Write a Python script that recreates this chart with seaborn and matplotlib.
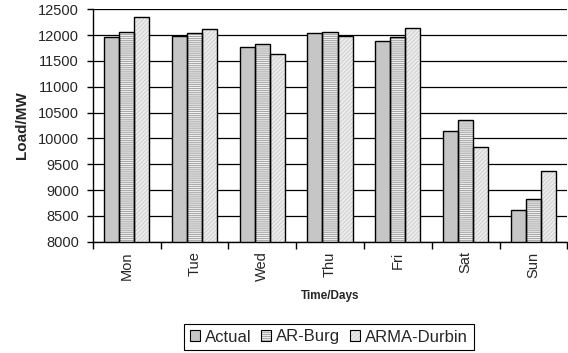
import matplotlib
matplotlib.use("Agg")
import matplotlib.pyplot as plt
from matplotlib.patches import Patch, Rectangle
from matplotlib.legend_handler import HandlerTuple
import seaborn as sns
import pandas as pd

days = ["Mon", "Tue", "Wed", "Thu", "Fri", "Sat", "Sun"]
actual = [11955, 11990, 11775, 12035, 11880, 10140, 8615]
ar_burg = [12060, 12035, 11835, 12060, 11955, 10360, 8820]
arma_durbin = [12355, 12110, 11625, 11980, 12135, 9835, 9365]
series = ["Actual", "AR-Burg", "ARMA-Durbin"]
yticks = list(range(8000, 12501, 500))

df = pd.DataFrame({
    "Day": days * 3,
    "Load": actual + ar_burg + arma_durbin,
    "Series": [s for s in series for _ in days],
})

sns.set_style("white")
plt.rcParams["font.family"] = ["Liberation Sans", "DejaVu Sans"]
plt.rcParams["hatch.linewidth"] = 0.8

fig = plt.figure(figsize=(5.68, 3.53), dpi=100)
ax = fig.add_axes([0.1632, 0.3153, 0.8356, 0.6584])

face = {"Actual": "#c6c6c6", "AR-Burg": "#f4f4f4", "ARMA-Durbin": "#ededed"}
hatch = {"Actual": None, "AR-Burg": "--------", "ARMA-Durbin": "////////"}
hcol = {"Actual": "#c6c6c6", "AR-Burg": "#a8a8a8", "ARMA-Durbin": "#d2d2d2"}

sns.barplot(data=df, x="Day", y="Load", hue="Series", order=days,
            hue_order=series, palette=face, width=0.667, gap=0,
            linewidth=0, legend=False, ax=ax, zorder=3)

# hatch each series in its own grey, then outline every bar in black
for cont, name in zip(ax.containers, series):
    for p in cont.patches:
        p.set_edgecolor(hcol[name])
        p.set_linewidth(0)
        if hatch[name]:
            p.set_hatch(hatch[name])
        ax.add_patch(Rectangle(p.get_xy(), p.get_width(), p.get_height(),
                               facecolor="none", edgecolor="black",
                               linewidth=1.0, zorder=4))

ax.set_ylim(8000, 12500)
ax.set_xlim(-0.5, len(days) - 0.5)
ax.set_yticks(yticks)
ax.set_yticklabels([str(v) for v in yticks], fontsize=10.5)
ax.set_xticks(range(len(days)))
ax.set_xticklabels(days, rotation=90, fontsize=10.5)
ax.set_xticks([i - 0.5 for i in range(len(days) + 1)], minor=True)
ax.tick_params(axis="x", which="major", length=0, pad=7)
ax.tick_params(axis="x", which="minor", direction="out", length=5, width=1, color="black", bottom=True)
ax.tick_params(axis="y", direction="out", length=4, width=1, color="black", left=True, pad=6)

ax.yaxis.grid(True, color="black", linewidth=0.9, zorder=0)
ax.set_axisbelow(True)
for s in ["top", "right"]:
    ax.spines[s].set_visible(False)
for s in ["left", "bottom"]:
    ax.spines[s].set_color("black")
    ax.spines[s].set_linewidth(1.0)
    ax.spines[s].set_zorder(5)

ax.set_ylabel("Load/MW", fontsize=11, fontweight="bold", labelpad=6)
ax.set_xlabel("Time/Days", fontsize=8.5, fontweight="bold", labelpad=6)

handles = []
for name in series:
    fill = Patch(facecolor=face[name], edgecolor=hcol[name], linewidth=0, hatch=hatch[name])
    outline = Patch(facecolor="none", edgecolor="black", linewidth=0.8)
    handles.append((fill, outline))
leg = fig.legend(handles, series, loc="center", bbox_to_anchor=(329 / 568, 1 - 337 / 353),
                 ncol=3, fontsize=12, frameon=True, fancybox=False, framealpha=1,
                 edgecolor="black", handlelength=0.6, handleheight=0.6,
                 handletextpad=0.3, columnspacing=0.6, borderpad=0.35,
                 handler_map={tuple: HandlerTuple(ndivide=1, pad=0)})
leg.get_frame().set_linewidth(0.8)

fig.savefig("out.png", dpi=100)
